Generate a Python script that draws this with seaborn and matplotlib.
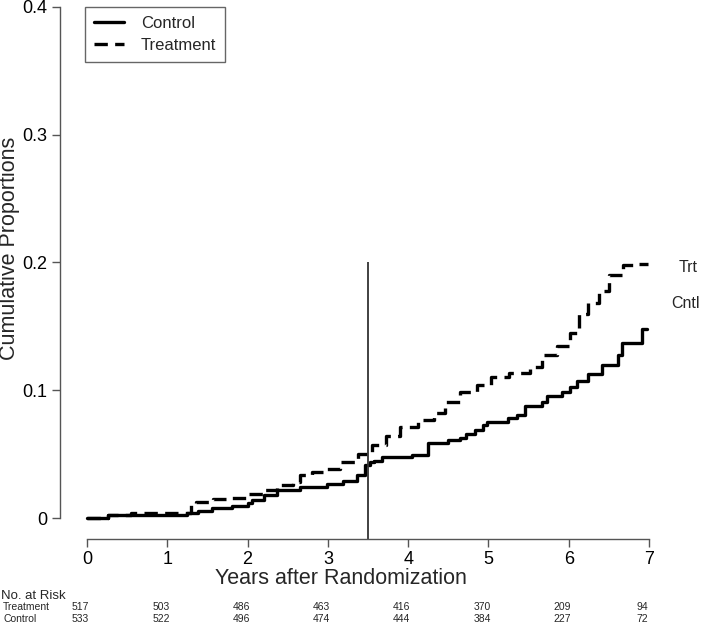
import pandas as pd
import matplotlib.pyplot as plt
import matplotlib.transforms as mtransforms
from matplotlib.lines import Line2D
import seaborn as sns

sns.set_theme(style="ticks")
plt.rcParams["font.family"] = ["Liberation Sans", "DejaVu Sans"]

# step curves (years, cumulative proportion)
control_t = [0, 0.26, 1.25, 1.38, 1.56, 1.80, 2.00, 2.05, 2.20, 2.37,
             2.65, 2.99, 3.19, 3.36, 3.46, 3.52, 3.58, 3.67, 4.05, 4.25,
             4.50, 4.65, 4.72, 4.83, 4.93, 4.98, 5.24, 5.35, 5.45, 5.67,
             5.73, 5.91, 6.02, 6.10, 6.24, 6.41, 6.61, 6.66, 6.91, 6.97]
control_y = [0, 0.002, 0.0037, 0.0055, 0.0076, 0.0094, 0.0115, 0.014, 0.018, 0.022,
             0.024, 0.027, 0.029, 0.0336, 0.0415, 0.044, 0.045, 0.0475, 0.0493, 0.059,
             0.061, 0.063, 0.066, 0.069, 0.073, 0.0753, 0.078, 0.0806, 0.088, 0.091,
             0.0955, 0.0988, 0.1027, 0.1074, 0.1124, 0.1197, 0.1275, 0.1367, 0.1476, 0.1476]

treat_t = [0, 0.26, 0.55, 1.30, 1.36, 1.57, 1.78, 1.99, 2.20, 2.37,
           2.57, 2.65, 2.80, 2.96, 3.15, 3.38, 3.55, 3.72, 3.90, 4.12,
           4.32, 4.46, 4.64, 4.86, 5.03, 5.25, 5.52, 5.67, 5.85, 6.01,
           6.13, 6.24, 6.38, 6.50, 6.68, 6.80, 6.99]
treat_y = [0, 0.002, 0.004, 0.0115, 0.0128, 0.0146, 0.0154, 0.019, 0.022, 0.026,
           0.0285, 0.0336, 0.036, 0.038, 0.044, 0.050, 0.057, 0.064, 0.071, 0.0767,
           0.082, 0.091, 0.099, 0.104, 0.1106, 0.1137, 0.1185, 0.1275, 0.1346, 0.1445,
           0.160, 0.168, 0.178, 0.190, 0.198, 0.1988, 0.1988]

# numbers at risk per year
risk_years = [0, 1, 2, 3, 4, 5, 6, 7]
risk_treatment = [517, 503, 486, 463, 416, 370, 209, 94]
risk_control = [533, 522, 496, 474, 444, 384, 227, 72]

landmark = 3.5

df = pd.concat([
    pd.DataFrame({"years": control_t, "prop": control_y, "group": "Control"}),
    pd.DataFrame({"years": treat_t, "prop": treat_y, "group": "Treatment"}),
])

fig = plt.figure(figsize=(7.01, 6.24), dpi=100)
ax = fig.add_axes([60 / 701, 85 / 624, 611.5 / 701, 539 / 624])

sns.lineplot(data=df, x="years", y="prop", style="group", hue="group",
             palette=["black", "black"],
             dashes={"Control": "", "Treatment": (4, 2.2)},
             drawstyle="steps-post", estimator=None, sort=False,
             linewidth=2.4, legend=False, ax=ax)

ax.set_xlim(-0.336, 7.28)
ax.set_ylim(-0.0164, 0.4053)

ax.vlines(landmark, -0.0164, 0.2, color="#333333", linewidth=1.3)

# R-style detached axes
for s in ["top", "right"]:
    ax.spines[s].set_visible(False)
ax.spines["left"].set_bounds(0, 0.4)
ax.spines["bottom"].set_bounds(0, 7)
for s in ["left", "bottom"]:
    ax.spines[s].set_color("#555555")
    ax.spines[s].set_linewidth(1.0)
ax.set_xticks(range(8))
ax.set_yticks([0, 0.1, 0.2, 0.3, 0.4])
ax.set_yticklabels(["0", "0.1", "0.2", "0.3", "0.4"])
ax.tick_params(axis="both", length=6, width=1.0, color="#555555",
               labelsize=13, labelcolor="black", pad=3)
ax.set_xlabel("")
ax.set_ylabel("")
ax.patch.set_alpha(0)

fig.text(341 / 701, 1 - 579 / 624, "Years after Randomization",
         ha="center", va="center", fontsize=15.5)
fig.text(10 / 701, 1 - 248 / 624, "Cumulative Proportions",
         ha="center", va="center", rotation=90, fontsize=15.5)

ax.text(7.49, 0.196, "Trt", ha="center", va="center", fontsize=11.5, clip_on=False)
ax.text(7.45, 0.1675, "Cntl", ha="center", va="center", fontsize=11.5, clip_on=False)

handles = [Line2D([], [], color="black", lw=2.4),
           Line2D([], [], color="black", lw=2.4, dashes=(4, 2.2))]
leg = ax.legend(handles, ["Control", "Treatment"], loc="upper left",
                bbox_to_anchor=(25 / 611.5, 1 - 7 / 539), borderaxespad=0,
                fontsize=12, fancybox=False, framealpha=1, edgecolor="#666666",
                handlelength=1.8, borderpad=0.55, labelspacing=0.4, handletextpad=1.0)
leg.get_frame().set_linewidth(1.0)

# risk table
tr = mtransforms.blended_transform_factory(ax.transData, fig.transFigure)
fig.text(1 / 701, 1 - 596 / 624, "No. at Risk", ha="left", va="center", fontsize=9.5)
fig.text(3 / 701, 1 - 607 / 624, "Treatment", ha="left", va="center", fontsize=7.5)
fig.text(3 / 701, 1 - 619 / 624, "Control", ha="left", va="center", fontsize=7.5)
for yr, nt, nc in zip(risk_years, risk_treatment, risk_control):
    ax.text(yr - 0.08, 1 - 607 / 624, str(nt), transform=tr, ha="center",
            va="center", fontsize=7.5, clip_on=False)
    ax.text(yr - 0.08, 1 - 619 / 624, str(nc), transform=tr, ha="center",
            va="center", fontsize=7.5, clip_on=False)

fig.savefig("out.png", dpi=100)
